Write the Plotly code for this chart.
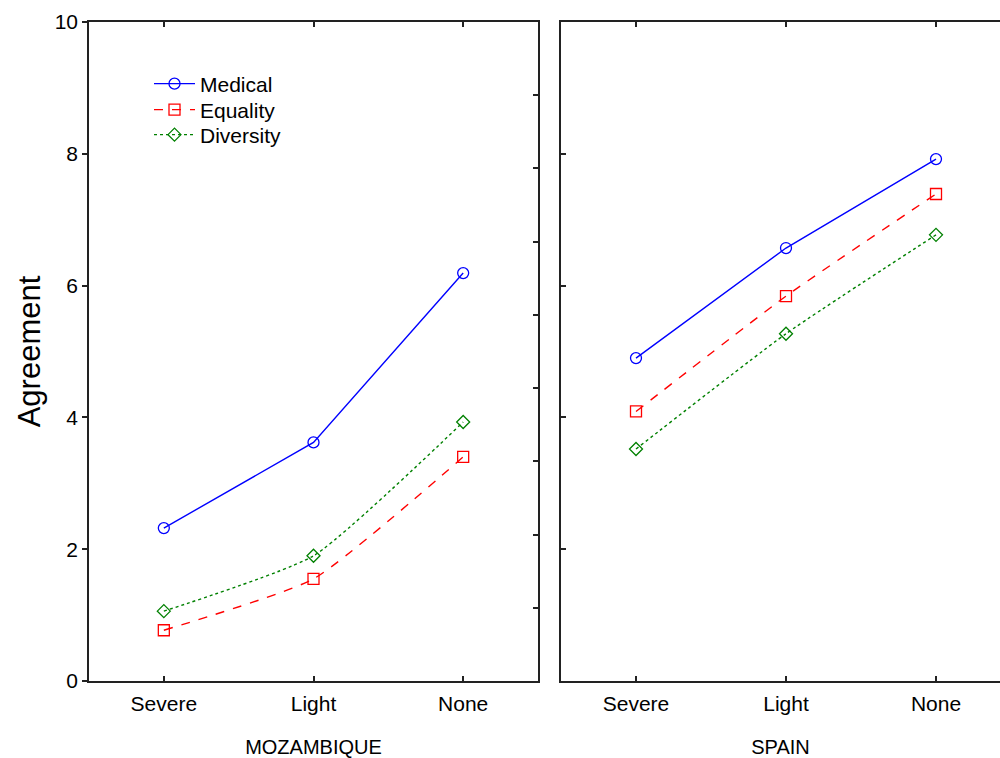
import plotly.graph_objects as go

categories = ["Severe", "Light", "None"]
series_names = ["Medical", "Equality", "Diversity"]

moz_medical = [2.32, 3.62, 6.19]
moz_equality = [0.77, 1.55, 3.40]
moz_diversity = [1.06, 1.90, 3.93]

spain_medical = [4.90, 6.57, 7.92]
spain_equality = [4.09, 5.84, 7.39]
spain_diversity = [3.52, 5.27, 6.77]

y_ticks = [0, 2, 4, 6, 8, 10]
right_ticks = [10 * i / 9 for i in range(1, 9)]

styles = {
    "Medical": dict(color="#0000FF", dash="solid", symbol="circle-open", size=11, shape="linear"),
    "Equality": dict(color="#FF0000", dash="dash", symbol="square-open", size=11, shape="spline"),
    "Diversity": dict(color="#008000", dash="dot", symbol="diamond-open", size=10, shape="spline"),
}
legend_ids = {"Medical": "legend", "Equality": "legend2", "Diversity": "legend3"}

xi = list(range(len(categories)))
fig = go.Figure()

panels = [
    ("x", "y", [moz_medical, moz_equality, moz_diversity], True),
    ("x2", "y2", [spain_medical, spain_equality, spain_diversity], False),
]
for xa, ya, vals, show in panels:
    for name, v in zip(series_names, vals):
        s = styles[name]
        fig.add_trace(go.Scatter(
            x=xi, y=v, name=name, mode="lines+markers", xaxis=xa, yaxis=ya,
            showlegend=show, legend=legend_ids[name],
            line=dict(color=s["color"], dash=s["dash"], width=1.4, shape=s["shape"], smoothing=0.5),
            marker=dict(symbol=s["symbol"], size=s["size"], color=s["color"],
                        line=dict(width=1.3, color=s["color"])),
        ))

font_family = "Liberation Sans, Arial, sans-serif"
OFF = 0  # body margin removed via post_script
W, H = 1000, 758
ml, mr, mt, mb = 89 - OFF, 0, 22 - OFF, H - (681 - OFF)
PW = W - ml - mr
PH = H - mt - mb
left1 = 538 - OFF
right0 = 561 - OFF
xr_right = 2.5 - (1011 - (W + OFF)) / 150.0

axis_common = dict(showline=True, linecolor="#222", linewidth=1.5, showgrid=False, zeroline=False,
                   automargin=False)


def leg(screen_y):
    return dict(x=(149 - OFF - ml) / PW, y=1 - (screen_y - OFF - mt) / PH, xanchor="left",
                yanchor="middle", bgcolor="rgba(0,0,0,0)", font=dict(size=21), itemwidth=41,
                tracegroupgap=0)


fig.update_layout(
    width=W, height=H,
    margin=dict(l=ml, r=mr, t=mt, b=mb),
    plot_bgcolor="white", paper_bgcolor="white",
    font=dict(family=font_family, color="black"),
    xaxis=dict(domain=[0, (left1 - ml) / PW], range=[-0.5, 2.5], tickvals=xi, ticktext=categories,
               ticks="inside", ticklen=5, tickwidth=1.5, tickcolor="#222", mirror="ticks",
               tickfont=dict(size=21), ticklabelstandoff=3,
               title=dict(text="MOZAMBIQUE", font=dict(size=20), standoff=27),
               anchor="y", **axis_common),
    yaxis=dict(domain=[0, 1], range=[0, 10], tickvals=y_ticks, ticks="outside", ticklen=5,
               tickwidth=1.5, tickcolor="#222", mirror=True, tickfont=dict(size=21),
               title=dict(text="Agreement", font=dict(size=31), standoff=5),
               anchor="x", **axis_common),
    yaxis3=dict(range=[0, 10], overlaying="y", side="right", anchor="x", tickvals=right_ticks,
                ticks="inside", ticklen=5, tickwidth=1.5, tickcolor="#222", showticklabels=False,
                showgrid=False, zeroline=False, showline=False, automargin=False),
    xaxis2=dict(domain=[(right0 - ml) / PW, 1.0], range=[-0.5, xr_right], tickvals=xi, ticktext=categories,
                ticks="inside", ticklen=5, tickwidth=1.5, tickcolor="#222", mirror="ticks",
                tickfont=dict(size=21), ticklabelstandoff=3,
                title=dict(text="SPAIN", font=dict(size=20), standoff=27),
                anchor="y2", **axis_common),
    yaxis2=dict(domain=[0, 1], range=[0, 10], tickvals=[2, 4, 6, 8], ticks="inside", ticklen=5,
                tickwidth=1.5, tickcolor="#222", showticklabels=False, anchor="x2", **axis_common),
    legend=leg(84),
    legend2=leg(110),
    legend3=leg(135),
)

fig.add_trace(go.Scatter(x=[0], y=[0], xaxis="x", yaxis="y3", mode="markers",
                         marker=dict(opacity=0), showlegend=False, hoverinfo="skip"))

fig.write_html(
    "out.html",
    config={"displayModeBar": False},
    post_script="document.body.style.margin='0';document.body.style.overflow='hidden';",
)
